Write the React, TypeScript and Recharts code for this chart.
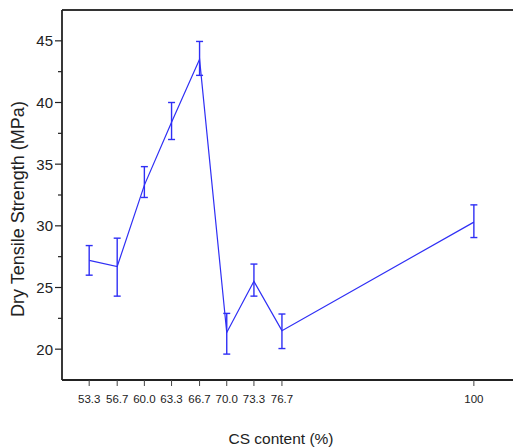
import React from "react";
import {
  LineChart,
  Line,
  XAxis,
  YAxis,
  ErrorBar,
  ReferenceLine,
  Label,
} from "recharts";

// values
const csContent = [53.3, 56.7, 60.0, 63.3, 66.7, 70.0, 73.3, 76.7, 100];
const strength = [27.2, 26.7, 33.3, 38.4, 43.5, 21.35, 25.5, 21.5, 30.3];
const lowerBound = [26.0, 24.3, 32.3, 37.0, 42.2, 19.6, 24.3, 20.05, 29.05];
const upperBound = [28.4, 29.0, 34.8, 40.0, 44.95, 22.9, 26.9, 22.85, 31.7];

const yTicks = [20, 22.5, 25, 27.5, 30, 32.5, 35, 37.5, 40, 42.5, 45];
const X_DOMAIN: [number, number] = [50, 105.6];
const Y_DOMAIN: [number, number] = [17.5, 47.5];

const data = csContent.map((cs, i) => ({
  cs,
  strength: strength[i],
  err: [strength[i] - lowerBound[i], upperBound[i] - strength[i]],
}));

const FONT = "'Liberation Sans', Arial, sans-serif";
const INK = "#222";
const BLUE = "#2f2ff5";

const formatCs = (v: number) => (v === 100 ? "100" : v.toFixed(1));

// left axis ticks: long ticks with labels every 5, short unlabelled ones in between
const YTick = ({ x, y, payload }: { x: number; y: number; payload: { value: number } }) => {
  const major = payload.value % 5 === 0;
  return (
    <g>
      <line x1={x} x2={x - (major ? 7 : 4)} y1={y} y2={y} stroke={INK} strokeWidth={1.2} />
      {major && (
        <text x={x - 9} y={y} dy="0.36em" textAnchor="end" fontSize={15} fill={INK} fontFamily={FONT}>
          {payload.value}
        </text>
      )}
    </g>
  );
};

const YTitle = ({ viewBox }: { viewBox?: { x: number; y: number; width: number; height: number } }) => {
  if (!viewBox) return null;
  const cx = viewBox.x + 24;
  const cy = viewBox.y + viewBox.height / 2 + 14;
  return (
    <text
      x={cx}
      y={cy}
      transform={`rotate(-90 ${cx} ${cy})`}
      textAnchor="middle"
      fontSize={18}
      fill={INK}
      fontFamily={FONT}
    >
      Dry Tensile Strength (MPa)
    </text>
  );
};

export default function App() {
  // the frame runs off the right edge in the original, so the chart is wider than the window
  return (
    <div style={{ position: "absolute", left: 0, top: 0, width: 513, height: 447, overflow: "hidden", background: "#fff" }}>
      <LineChart
        width={520}
        height={447}
        data={data}
        margin={{ top: 10, right: 0, left: 0, bottom: 0 }}
      >
        <XAxis
          dataKey="cs"
          type="number"
          domain={X_DOMAIN}
          ticks={csContent}
          tickFormatter={formatCs}
          interval={0}
          height={67}
          tickSize={6}
          tickMargin={9}
          axisLine={{ stroke: INK, strokeWidth: 1.8 }}
          tickLine={{ stroke: "#444", strokeWidth: 1 }}
          tick={{ fill: INK, fontSize: 11.5, fontFamily: FONT }}
          allowDataOverflow
        >
          <Label
            value="CS content (%)"
            position="insideBottom"
            offset={3}
            dx={-10}
            fill={INK}
            fontSize={15.5}
            fontFamily={FONT}
          />
        </XAxis>
        <YAxis
          type="number"
          domain={Y_DOMAIN}
          ticks={yTicks}
          interval={0}
          width={62}
          tickSize={0}
          tickMargin={0}
          tickLine={false}
          axisLine={{ stroke: INK, strokeWidth: 1.8 }}
          tick={YTick}
          allowDataOverflow
        >
          <Label content={<YTitle />} />
        </YAxis>
        <ReferenceLine y={Y_DOMAIN[1]} stroke="#333" strokeWidth={1.8} />
        <Line
          type="linear"
          dataKey="strength"
          stroke={BLUE}
          strokeWidth={1.2}
          dot={false}
          isAnimationActive={false}
        >
          <ErrorBar dataKey="err" direction="y" width={3.5} stroke={BLUE} strokeWidth={1.4} />
        </Line>
      </LineChart>
    </div>
  );
}
